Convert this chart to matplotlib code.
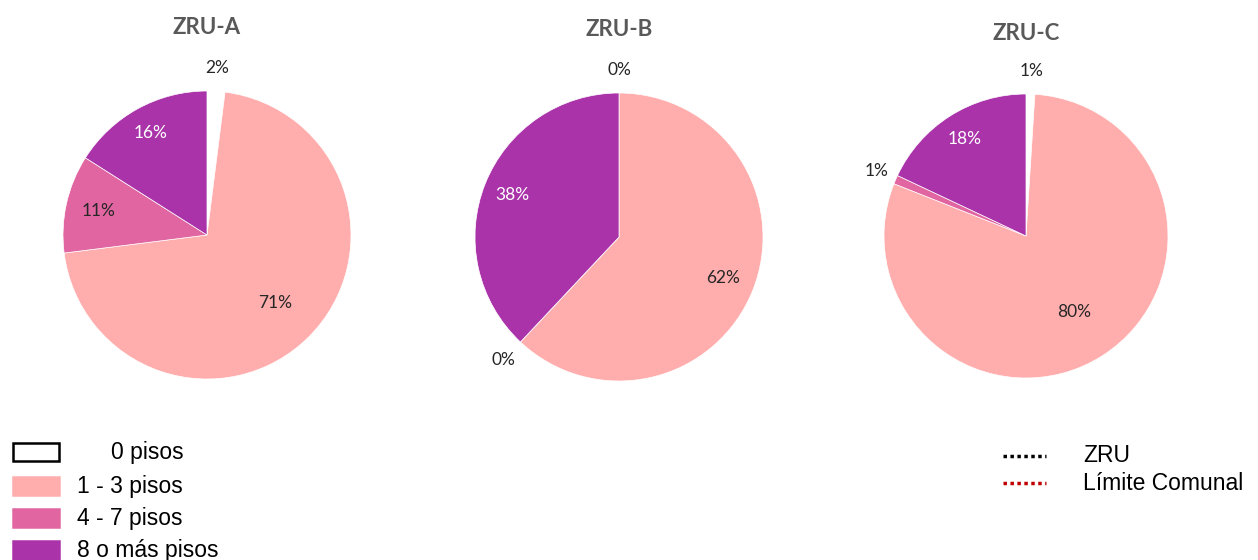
import matplotlib.pyplot as plt
from matplotlib.patches import Rectangle
from matplotlib.lines import Line2D
import numpy as np

# Datos: distribución de pisos por zona
zonas = ["ZRU-A", "ZRU-B", "ZRU-C"]
categorias = ["0 pisos", "1 - 3 pisos", "4 - 7 pisos", "8 o más pisos"]
zru_a = [2, 71, 11, 16]
zru_b = [0, 62, 0, 38]
zru_c = [1, 80, 1, 18]
valores = [zru_a, zru_b, zru_c]

colores = ["#ffffff", "#ffadad", "#e065a0", "#aa33aa"]
color_texto = ["#262626", "#262626", "#262626", "#ffffff"]

# Centro (px) y radio de cada torta
centros = [(207, 235), (619, 237), (1026, 236)]
radios = [144, 144, 142]
titulos_y = [28, 30, 34]
# distancia de cada etiqueta al centro (en radios)
dist_etiquetas = [
    [1.16, 0.67, 0.77, 0.81],
    [1.16, 0.78, 1.17, 0.80],
    [1.16, 0.63, 1.15, 0.81],
]

W, H = 1258, 560
fig = plt.figure(figsize=(W / 100, H / 100), dpi=100)

for i in range(3):
    cx, cy = centros[i]
    r = radios[i]
    media = 200
    ax = fig.add_axes([(cx - media) / W, (H - cy - media) / H, 2 * media / W, 2 * media / H])
    lim = media / r
    wedges, _ = ax.pie(valores[i], colors=colores, startangle=90, counterclock=False,
                       wedgeprops=dict(edgecolor="white", linewidth=0.5))
    ax.set_xlim(-lim, lim)
    ax.set_ylim(-lim, lim)
    ax.set_aspect("equal")
    ax.axis("off")

    # Etiquetas de porcentaje
    total = sum(valores[i])
    acumulado = 0
    for j, v in enumerate(valores[i]):
        medio = (acumulado + v / 2) / total * 360
        acumulado += v
        ang = np.radians(medio)
        d = dist_etiquetas[i][j]
        ax.text(d * np.sin(ang), d * np.cos(ang), f"{v}%", ha="center", va="center",
                fontsize=12.5, family="Lato", color=color_texto[j] if d < 1 else "#262626")

    fig.text((cx) / W, 1 - titulos_y[i] / H, zonas[i], ha="center", va="center",
             fontsize=16, fontweight="bold", family="Lato", color="#595959")

# Leyenda de categorías
filas_y = [452, 486, 518, 550]
for k, cat in enumerate(categorias):
    y = filas_y[k]
    borde = "black" if k == 0 else colores[k]
    fig.patches.append(Rectangle((13 / W, (H - y - 9) / H), 46 / W, 18 / H,
                                 transform=fig.transFigure, facecolor=colores[k],
                                 edgecolor=borde, linewidth=1.8))
    x_txt = 111 if k == 0 else 77
    fig.text(x_txt / W, 1 - y / H, cat, ha="left", va="center", fontsize=16.5,
             family="Liberation Sans", color="black")

# Leyenda de límites
limites = [("ZRU", "black", 456), ("Límite Comunal", "#c00000", 483)]
for nombre, col, y in limites:
    fig.lines.append(Line2D([1003 / W, 1046 / W], [1 - y / H, 1 - y / H],
                            transform=fig.transFigure, color=col, linewidth=2.5,
                            linestyle=(0, (1, 1))))
    fig.text(1083 / W, 1 - y / H, nombre, ha="left", va="center", fontsize=16.5,
             family="Liberation Sans", color="black")

fig.savefig("out.png", dpi=100, facecolor="white")
